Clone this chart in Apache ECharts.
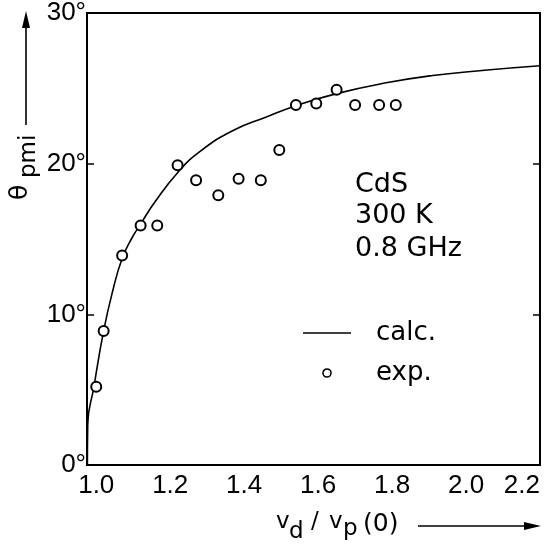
<!DOCTYPE html>
<html>
<head>
<meta charset="utf-8">
<script src="https://cdn.jsdelivr.net/npm/echarts@6/dist/echarts.min.js"></script>
<style>
html,body{margin:0;padding:0;background:#fff;}
#c{width:546px;height:548px;}
</style>
</head>
<body>
<div id="c"></div>
<script>
// ---- data ----
var calcX = [0.976, 0.977, 0.993, 1.02, 1.045, 1.07, 1.095, 1.12, 1.16, 1.22, 1.28, 1.37, 1.46, 1.54, 1.65, 1.78, 1.91, 2.05, 2.2];
var calcY = [0, 2.7, 5.1, 8.9, 11.6, 13.7, 15.0, 16.0, 17.5, 19.4, 20.8, 22.2, 23.1, 23.85, 24.65, 25.35, 25.85, 26.2, 26.5];
var expX = [1.0, 1.02, 1.07, 1.12, 1.165, 1.22, 1.27, 1.33, 1.385, 1.445, 1.495, 1.54, 1.595, 1.65, 1.70, 1.765, 1.81];
var expY = [5.2, 8.9, 13.9, 15.9, 15.9, 19.9, 18.9, 17.9, 19.0, 18.9, 20.9, 23.9, 24.0, 24.9, 23.9, 23.9, 23.9];
var xTickValues = [1.0, 1.2, 1.4, 1.6, 1.8, 2.0, 2.2];
var xTickLabels = ['1.0', '1.2', '1.4', '1.6', '1.8', '2.0', '2.2'];
var yTickValues = [0, 10, 20, 30];
var yTickLabels = ['0°', '10°', '20°', '30°'];
var seriesNames = ['calc.', 'exp.'];
var annotationLines = ['CdS', '300 K', '0.8 GHz'];

var tickFont = 'Liberation Sans';
var textFont = 'DejaVu Sans';

function zip(a, b) { return a.map(function (v, i) { return [v, b[i]]; }); }
function txt(x, y, s, size, rot) {
  return { type: 'text', x: x, y: y, rotation: rot || 0,
    style: { text: s, fontFamily: textFont, fontSize: size, fill: '#000', align: 'left', verticalAlign: 'middle' } };
}

var chart = echarts.init(document.getElementById('c'), null, { renderer: 'canvas' });

var R = Math.PI / 2;
var option = {
  animation: false,
  backgroundColor: '#fff',
  grid: {
    left: 87, right: 6, top: 11, bottom: 83,
    show: true, borderColor: '#000', borderWidth: 2, backgroundColor: 'transparent'
  },
  legend: {
    orient: 'vertical',
    left: 303, top: 320,
    itemWidth: 48, itemHeight: 8, itemGap: 14,
    padding: 0,
    textStyle: { fontFamily: textFont, fontSize: 26, color: '#000', padding: [0, 0, 0, 20] },
    data: [
      { name: seriesNames[0], icon: 'path://M0,0 L48,0 L48,1.6 L0,1.6 Z', itemStyle: { color: '#000' } },
      { name: seriesNames[1], icon: 'circle', itemStyle: { color: '#fff', borderColor: '#000', borderWidth: 1.6 } }
    ]
  },
  xAxis: {
    type: 'value', min: 0.975, max: 2.2,
    axisLine: { show: true, lineStyle: { color: '#000', width: 2 } },
    axisTick: { show: false },
    splitLine: { show: false },
    axisLabel: {
      customValues: xTickValues,
      formatter: function (v) {
        for (var i = 0; i < xTickValues.length; i++) if (Math.abs(v - xTickValues[i]) < 1e-6) return xTickLabels[i];
        return '';
      },
      fontFamily: tickFont, fontSize: 26, color: '#000', margin: 8,
      alignMaxLabel: 'right', showMinLabel: true, showMaxLabel: true
    }
  },
  yAxis: [{
    type: 'value', min: 0, max: 30, interval: 10,
    position: 'left',
    axisLine: { show: true, lineStyle: { color: '#000', width: 2 } },
    axisTick: { show: true, inside: true, length: 7, lineStyle: { color: '#000', width: 1.5 } },
    splitLine: { show: false },
    axisLabel: {
      formatter: function (v) { return yTickLabels[yTickValues.indexOf(v)]; },
      fontFamily: tickFont, fontSize: 26, color: '#000', margin: 1,
      padding: [16, 0, 0, 0]
    }
  }, {
    type: 'value', min: 0, max: 30, interval: 10,
    position: 'right',
    axisLine: { show: true, lineStyle: { color: '#000', width: 2 } },
    axisTick: { show: true, inside: true, length: 7, lineStyle: { color: '#000', width: 1.5 } },
    splitLine: { show: false },
    axisLabel: { show: false }
  }],
  series: [{
    name: seriesNames[0],
    type: 'line',
    data: zip(calcX, calcY),
    smooth: 0.5,
    symbol: 'none',
    lineStyle: { color: '#000', width: 1.6 },
    itemStyle: { color: '#000' },
    z: 2
  }, {
    name: seriesNames[1],
    type: 'scatter',
    data: zip(expX, expY),
    symbol: 'circle',
    symbolSize: 10,
    itemStyle: { color: '#fff', borderColor: '#000', borderWidth: 2, opacity: 1 },
    z: 3
  }],
  graphic: [
    // annotation block
    txt(355, 185, annotationLines[0], 27),
    txt(355, 216, annotationLines[1], 27),
    txt(355, 249, annotationLines[2], 27),
    // x axis title: v_d / v_p (0)
    txt(276, 522, 'v', 23),
    txt(289, 532, 'd', 23),
    txt(311, 522, '/', 23),
    txt(329, 522, 'v', 23),
    txt(343, 529, 'p', 23),
    txt(363, 524, '(0)', 25),
    // x arrow
    { type: 'line', shape: { x1: 418, y1: 526, x2: 528, y2: 526 }, style: { stroke: '#000', lineWidth: 1.6 } },
    { type: 'polygon', shape: { points: [[541, 526], [524, 522], [524, 530]] }, style: { fill: '#000' } },
    // y axis title (rotated): θ_pmi
    txt(20, 200, 'θ', 25, R),
    txt(29, 178, 'pmi', 23, R),
    // y arrow
    { type: 'line', shape: { x1: 26, y1: 125, x2: 26, y2: 26 }, style: { stroke: '#000', lineWidth: 1.6 } },
    { type: 'polygon', shape: { points: [[26, 11], [22, 28], [30, 28]] }, style: { fill: '#000' } }
  ]
};
chart.setOption(option);
</script>
</body>
</html>
